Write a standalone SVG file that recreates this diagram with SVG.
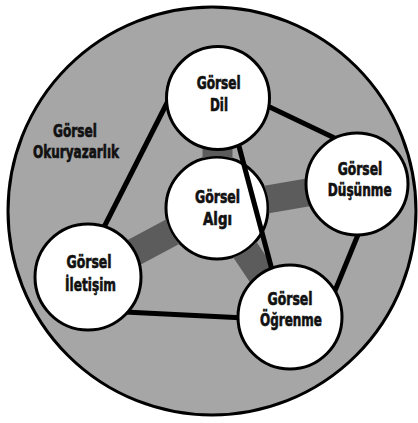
<svg xmlns="http://www.w3.org/2000/svg" width="418" height="423" viewBox="0 0 418 423">
  <defs>
    <style>
      .node { fill: #ffffff; stroke: #000000; stroke-width: 3; }
      .lbl { font-family: "DejaVu Sans Condensed", "Liberation Sans Narrow", "Roboto Condensed", "DejaVu Sans", sans-serif; font-stretch: condensed; font-weight: bold; font-size: 17px; fill: #111111; stroke: #111111; stroke-width: 0.6; text-anchor: middle; }
      .edge { stroke: #000000; stroke-width: 5; stroke-linecap: butt; fill: none; }
      .band { stroke: #5c5c5c; stroke-width: 28; stroke-linecap: butt; fill: none; }
    </style>
    <mask id="cutAlgi" maskUnits="userSpaceOnUse" x="0" y="0" width="418" height="423">
      <rect x="0" y="0" width="418" height="423" fill="#ffffff"/>
      <circle cx="217" cy="208" r="52" fill="#000000"/>
    </mask>
  </defs>
  <rect x="0" y="0" width="418" height="423" fill="#ffffff"/>
  <g id="okuryazarlik">
    <circle cx="212" cy="211" r="204" fill="#a6a6a6" stroke="#000000" stroke-width="3"/>
    <text class="lbl" x="75" y="137" textLength="44" lengthAdjust="spacingAndGlyphs">Görsel</text>
    <text class="lbl" x="76" y="158" textLength="86" lengthAdjust="spacingAndGlyphs">Okuryazarlık</text>
  </g>
  <g id="algi">
    <circle class="node" cx="217" cy="208" r="51"/>
    <text class="lbl" x="217.5" y="203" textLength="45" lengthAdjust="spacingAndGlyphs">Görsel</text>
    <text class="lbl" x="217.5" y="225" textLength="29" lengthAdjust="spacingAndGlyphs">Algı</text>
  </g>
  <g id="connectors">
    <g mask="url(#cutAlgi)">
      <line class="band" x1="217" y1="208" x2="218" y2="98" style="stroke-width:30"/>
      <line class="band" x1="217" y1="208" x2="357" y2="184"/>
      <line class="band" x1="217" y1="208" x2="88" y2="277"/>
      <line class="band" x1="217" y1="208" x2="290" y2="317"/>
    </g>
    <line class="edge" x1="255" y1="100" x2="345" y2="143"/>
    <line class="edge" x1="362" y1="225" x2="332" y2="298"/>
    <line class="edge" x1="125" y1="312" x2="245" y2="318"/>
    <line class="edge" x1="100" y1="235" x2="170" y2="97"/>
    <line class="edge" x1="236" y1="135" x2="272" y2="270"/>
  </g>
  <g id="dil">
    <circle class="node" cx="218" cy="98" r="51.5"/>
    <text class="lbl" x="218.7" y="89" textLength="44" lengthAdjust="spacingAndGlyphs">Görsel</text>
    <text class="lbl" x="219" y="111" textLength="18" lengthAdjust="spacingAndGlyphs">Dil</text>
  </g>
  <g id="dusunme">
    <circle class="node" cx="357" cy="184" r="51"/>
    <text class="lbl" x="360" y="175" textLength="44.5" lengthAdjust="spacingAndGlyphs">Görsel</text>
    <text class="lbl" x="359.7" y="196" textLength="64" lengthAdjust="spacingAndGlyphs">Düşünme</text>
  </g>
  <g id="iletisim">
    <circle class="node" cx="88" cy="277" r="53"/>
    <text class="lbl" x="89" y="268" textLength="45" lengthAdjust="spacingAndGlyphs">Görsel</text>
    <text class="lbl" x="90.5" y="290.5" textLength="51" lengthAdjust="spacingAndGlyphs">İletişim</text>
  </g>
  <g id="ogrenme">
    <circle class="node" cx="290" cy="317" r="52"/>
    <text class="lbl" x="290" y="305" textLength="45" lengthAdjust="spacingAndGlyphs">Görsel</text>
    <text class="lbl" x="291" y="326" textLength="62" lengthAdjust="spacingAndGlyphs">Öğrenme</text>
  </g>
</svg>
